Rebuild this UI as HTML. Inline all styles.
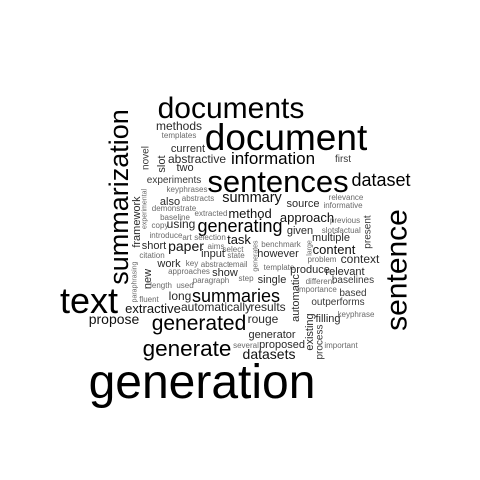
<!DOCTYPE html>
<html><head><meta charset="utf-8"><style>
html,body{margin:0;padding:0;background:#fff;width:480px;height:480px;overflow:hidden}
svg text{font-family:"Liberation Sans",Arial,sans-serif}
</style></head><body>
<svg id="cloud" width="480" height="480" viewBox="0 0 480 480" xmlns="http://www.w3.org/2000/svg"></svg>
<script>
// word-cloud data: words and their relative weights (font size in px)
const words = ["generation","documents","document","sentences","dataset","summarization","text","sentence","generated","generate","summaries","generating","information","summary",
"methods","templates","current","abstractive","two","novel","slot","experiments","keyphrases","also","abstracts","experimental","framework","demonstrate","extracted","method","baseline","copy","using","introduce","art","selection","task","short","paper","aims","select","citation","input","state","generates","paraphrasing","new","work","key","abstract","email","approaches","show","step","paragraph","length","used","fluent","long","extractive","automatically","propose","several",
"first","source","relevance","informative","approach","previous","given","slots","factual","multiple","present","benchmark","large","content","however","problem","context","template","produce","relevant","single","automatic","different","baselines","importance","based","outperforms","results","rouge","keyphrase","filling","existing","process","generator","proposed","important","datasets"];
const weights = [48,30,37,31,18,27,36,30,21,22.5,18,18,17,14.5,
12,8,11,12,11,10,11,10,8,11,8,7,11,8,8,13,8,8,12,8,8,8,13,11,14,8,8,8,11,8,7,7,11,11,8,8,8,8,11,8,8,8,8,8,12,13,12,14,8,
10,11,8,8,13,8,11,8,8,11,10,8,7,13,11,8,12,8,11,11,11,11,8,10,8,10,10,12,12,8,11,11,10,11,11,8,14];
// layout (not data): x, y, rotation
const layoutX = [202,231,286,278,381,119,89,397,199,187,236,240,273,252,
179,179,188,197,185,146,162,174,187,170,198,145,137,174,211,250,175,160,181,166,187,210,239,154,186,216,233,152,213,236,256,135,148,169,192,215,238,189,225,246,211,161,185,149,180,153,216,114,246,
343,303,346,343,307,345,300,330,349,331,368,281,310,334,278,322,360,279,310,345,272,296,320,353,317,353,338,268,263,356,328,310,320,272,282,341,269];
const layoutY = [398,118,150,192,186,197,313,270,330,356,302,232,164,202,
130,138,152,163,171,158,164,183,192,205,201,209,222,211,216,218,220,228,228,238,240,240,244,249,251,249,252,258,257,258,256,282,279,267,266,267,267,274,276,281,283,288,288,302,300,313,311,324,348,
162,207,200,208,222,223,234,233,233,241,232,247,248,254,257,262,263,270,273,275,283,298,284,283,292,296,305,311,323,317,322,332,342,338,348,348,359];
const rotated = new Set(["summarization","sentence","novel","slot","experimental","framework","generates","paraphrasing","new","present","large","automatic","existing","process"]);

const svg = document.getElementById('cloud');
const NS = "http://www.w3.org/2000/svg";
function colorFor(s){
  if(s>=17) return "#000";
  if(s>=13) return "#111";
  if(s>=11) return "#2a2a2a";
  if(s>=10) return "#3a3a3a";
  return "#6a6a6a";
}
words.forEach((w,i)=>{
  const s = weights[i];
  const t = document.createElementNS(NS,'text');
  
  
  t.setAttribute('x', layoutX[i]);
  t.setAttribute('y', layoutY[i]);
  t.setAttribute('font-size', s);
  t.setAttribute('text-anchor', 'middle');
  t.setAttribute('fill', colorFor(s));
  if(rotated.has(w)){
    t.setAttribute('dominant-baseline','central');
    t.setAttribute('transform','rotate(-90 '+layoutX[i]+' '+layoutY[i]+')');
  }
  t.textContent = w;
  svg.appendChild(t);
});
</script>
</body></html>
